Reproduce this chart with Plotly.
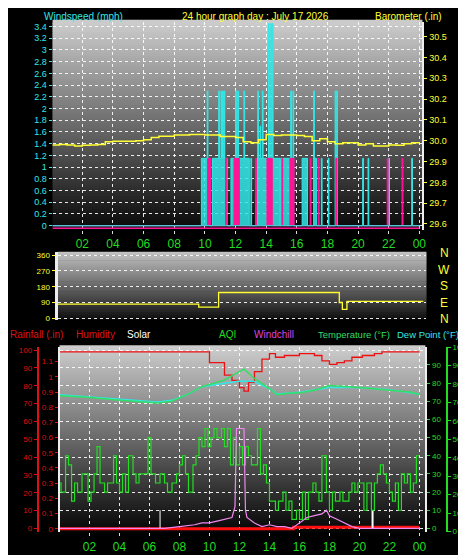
import plotly.graph_objects as go

# ---------------- data ----------------
hour_ticks = [2, 4, 6, 8, 10, 12, 14, 16, 18, 20, 22, 24]
hour_labels = ["02", "04", "06", "08", "10", "12", "14", "16", "18", "20", "22", "00"]

baro_hours = [0, 0.5, 1, 1.5, 2, 2.5, 3, 3.4, 3.5, 4, 5, 5.5, 6, 6.5, 7, 8, 9, 10, 11, 12, 12.5, 13, 13.5, 14, 14.5, 15, 16, 16.5, 17, 17.5, 18, 18.5, 19, 19.5, 20, 20.5, 21, 22, 22.5, 23, 23.5, 24]
baro_vals = [29.98, 29.982, 29.98, 29.975, 29.978, 29.98, 29.982, 29.982, 29.995, 29.997, 29.998, 30.0, 30.005, 30.015, 30.022, 30.028, 30.03, 30.027, 30.02, 30.015, 29.995, 29.99, 30.005, 30.03, 30.025, 30.027, 30.025, 30.02, 30.0, 30.01, 29.995, 29.985, 29.99, 29.99, 29.98, 29.985, 29.975, 29.98, 29.978, 29.985, 29.99, 29.99]

wind_hours = [0, 9.77, 10.15, 10.2, 10.3, 10.5, 10.9, 10.95, 11.05, 11.1, 11.15, 11.2, 11.25, 11.3, 11.45, 11.7, 12.0, 12.1, 12.15, 12.2, 12.55, 12.6, 12.9, 13.0, 13.05, 13.4, 13.45, 13.5, 13.6, 13.65, 13.75, 13.8, 14.15, 14.2, 14.3, 14.35, 14.4, 14.45, 14.9, 14.95, 15.6, 15.65, 15.75, 15.8, 16.35, 16.7, 17.1, 17.15, 17.3, 17.6, 17.65, 18.05, 18.1, 18.5, 18.65, 20.3, 20.35, 20.65, 20.7, 21.95, 22.05, 23.5, 23.55, 24]
wind_vals = [0, 1.15, 2.3, 1.15, 0, 1.15, 2.3, 1.15, 2.3, 1.15, 2.3, 1.15, 2.3, 1.15, 0, 1.15, 2.3, 1.15, 2.3, 1.15, 2.3, 1.15, 0, 1.15, 0, 1.15, 2.3, 1.15, 1.7, 1.15, 2.3, 1.15, 3.45, 2.3, 3.45, 2.9, 3.45, 1.15, 0, 1.15, 2.3, 1.15, 2.3, 0, 1.15, 0, 2.3, 1.15, 0, 1.15, 0, 1.15, 0, 2.3, 0, 1.15, 0, 1.15, 0, 1.15, 0, 1.15, 0, 0]

gust_hours = [0, 10.18, 10.4, 11.35, 11.42, 11.9, 12.25, 13.3, 13.36, 14.05, 14.4, 15.03, 15.08, 15.55, 15.82, 16.87, 16.93, 17.4, 17.46, 18.55, 18.62, 21.9, 21.96, 22.87, 22.93, 24]
gust_vals = [0, 1.15, 0, 1.15, 0, 1.15, 0, 1.15, 0, 1.15, 0, 1.15, 0, 1.15, 0, 1.15, 0, 1.15, 0, 1.15, 0, 1.15, 0, 1.15, 0, 0]

dir_hours = [0, 9.3, 10.6, 18.5, 18.7, 19.0, 24]
dir_vals = [81, 63, 147, 90, 51, 96, 96]

hum_hours = [0, 9.3, 10, 11, 11.5, 12, 12.3, 12.6, 13, 13.5, 14, 14.4, 15, 16, 17, 17.5, 18, 18.5, 19, 19.5, 20.2, 21, 21.5, 24]
hum_vals = [99, 99, 93, 86, 83, 79, 77, 82, 88, 95, 98, 96, 97, 98, 97, 94, 92, 93, 94, 96, 97, 98, 99, 99]

temp_hours = [0, 2, 4, 6.5, 7.5, 8.5, 9.5, 11, 12.3, 13, 14, 14.5, 15.5, 16, 17, 18, 20, 22, 23.5, 24]
temp_vals = [73, 72, 70.5, 69, 70, 73.6, 78, 81.7, 87.7, 82.6, 77, 73.6, 74.5, 74.5, 76, 78.7, 77.6, 76, 74.9, 73.6]

dew_hours = [0, 2, 4, 6.5, 7.5, 8.5, 9.5, 11, 12, 13, 14, 14.5, 16, 18, 20, 22, 24]
dew_vals = [73.6, 72.3, 70.9, 69.6, 70.5, 73.6, 78, 80, 81.2, 80.8, 76.9, 74, 75, 77.6, 77.6, 76.3, 74]

chill_hours = [0, 7, 8, 9, 9.5, 10, 10.5, 11, 11.5, 11.7, 11.8, 12.3, 12.4, 12.5, 13, 13.5, 14, 14.5, 15, 15.5, 16, 16.5, 17, 17.5, 17.8, 18, 18.5, 19, 19.5, 20, 24]
chill_vals = [0, 0, 1, 2, 3, 3, 4, 5, 6, 12, 55, 55, 10, 6, 3, 1, 2, 1, 1, 0, 3, 6, 7, 8, 10, 7, 5, 3, 1, 0, 0]

rain_hours = [0, 15.5, 15.6, 24]
rain_vals = [0, 0, 0.01, 0.01]

solar_hours = [6.7, 20.9]
solar_vals = [10, 10]

aqi_hours = [0, 0.1, 0.4, 0.6, 0.8, 1.0, 1.2, 1.5, 1.9, 2.1, 2.3, 2.5, 2.7, 3.0, 3.2, 3.6, 3.8, 4.0, 4.2, 4.4, 4.6, 4.9, 5.1, 5.3, 5.9, 6.1, 6.4, 6.7, 7.0, 7.2, 7.5, 7.8, 8.0, 8.2, 8.4, 8.6, 8.9, 9.1, 9.3, 9.5, 9.7, 9.9, 10.1, 10.3, 10.5, 10.8, 11.0, 11.2, 11.4, 11.6, 11.8, 12.0, 12.2, 12.4, 12.6, 12.8, 13.2, 13.4, 13.6, 13.8, 14.0, 14.4, 14.6, 14.9, 15.1, 15.3, 15.5, 15.8, 16.0, 16.2, 16.4, 16.6, 16.9, 17.1, 17.3, 17.5, 17.8, 18.0, 18.2, 18.4, 18.7, 18.9, 19.3, 19.5, 19.7, 19.9, 20.3, 20.5, 20.8, 21.0, 21.2, 21.4, 21.6, 21.8, 22.0, 22.2, 22.4, 22.6, 22.8, 23.0, 23.2, 23.4, 23.6, 23.8, 24]
aqi_vals = [25, 20, 40, 35, 15, 25, 20, 30, 15, 20, 30, 45, 25, 20, 25, 40, 25, 20, 30, 20, 40, 30, 25, 30, 50, 30, 25, 30, 25, 20, 25, 30, 35, 40, 30, 20, 35, 40, 50, 45, 55, 45, 50, 55, 50, 55, 45, 55, 35, 50, 35, 45, 35, 45, 40, 35, 55, 30, 35, 25, 15, 10, 15, 20, 10, 15, 5, 10, 5, 20, 5, 20, 25, 20, 15, 40, 20, 10, 20, 15, 20, 15, 20, 25, 20, 25, 10, 25, 10, 25, 30, 35, 30, 25, 20, 15, 25, 10, 30, 25, 30, 20, 25, 40, 40]

# ---------------- figure ----------------
FONT = "Liberation Sans"
CYAN = "#33e6e6"
YEL = "#ffff33"
GRN = "#22dd22"
RED = "#dd1111"

def px2x(p):
    return p / 466.0

def py2y(p):
    return 1 - p / 555.0

fig = go.Figure()

# top panel
fig.add_trace(go.Scatter(x=wind_hours, y=wind_vals, xaxis="x", yaxis="y", mode="lines",
                         line=dict(color=CYAN, width=1, shape="hv"), fill="tozeroy",
                         fillcolor="rgba(51,230,230,0.85)"))
fig.add_trace(go.Scatter(x=gust_hours, y=gust_vals, xaxis="x", yaxis="y", mode="lines",
                         line=dict(color="#ff1493", width=1, shape="hv"), fill="tozeroy",
                         fillcolor="#ff1493"))
fig.add_trace(go.Scatter(x=[0, 24], y=[-0.045, -0.045], xaxis="x", yaxis="y", mode="lines",
                         line=dict(color="#ff1493", width=1.5)))
fig.add_trace(go.Scatter(x=[0, 24], y=[0.0, 0.0], xaxis="x", yaxis="y", mode="lines",
                         line=dict(color=CYAN, width=1)))
fig.add_trace(go.Scatter(x=baro_hours, y=baro_vals, xaxis="x", yaxis="y2", mode="lines",
                         line=dict(color=YEL, width=1.5, shape="hv")))

# middle panel
fig.add_trace(go.Scatter(x=dir_hours, y=dir_vals, xaxis="x2", yaxis="y3", mode="lines",
                         line=dict(color=YEL, width=1.3, shape="hv")))

# bottom panel
fig.add_trace(go.Scatter(x=aqi_hours, y=aqi_vals, xaxis="x3", yaxis="y6", mode="lines",
                         line=dict(color=GRN, width=1.2, shape="hv")))
fig.add_trace(go.Scatter(x=chill_hours, y=chill_vals, xaxis="x3", yaxis="y6", mode="lines",
                         line=dict(color="#ee88ee", width=1.2)))
fig.add_trace(go.Scatter(x=rain_hours, y=rain_vals, xaxis="x3", yaxis="y5", mode="lines",
                         line=dict(color="#ff1010", width=3, shape="hv")))
fig.add_trace(go.Bar(x=solar_hours, y=solar_vals, xaxis="x3", yaxis="y6", width=0.05,
                     marker=dict(color="white", line=dict(width=0))))
fig.add_trace(go.Scatter(x=hum_hours, y=hum_vals, xaxis="x3", yaxis="y4", mode="lines",
                         line=dict(color="#ee1111", width=1.3, shape="hv")))
fig.add_trace(go.Scatter(x=dew_hours, y=dew_vals, xaxis="x3", yaxis="y6", mode="lines",
                         line=dict(color=CYAN, width=1.5)))
fig.add_trace(go.Scatter(x=temp_hours, y=temp_vals, xaxis="x3", yaxis="y6", mode="lines",
                         line=dict(color="#33dd66", width=1.5)))

grid = dict(showgrid=True, gridcolor="rgba(255,255,255,0.9)", griddash="dot", gridwidth=1)
xtick = dict(tickmode="array", tickvals=hour_ticks, ticktext=hour_labels,
             tickfont=dict(color=GRN, size=12, family=FONT), ticks="outside", ticklen=3,
             tickcolor="#dddddd", zeroline=False, showline=False)

fig.update_layout(
    width=466, height=555, margin=dict(l=0, r=0, t=0, b=0),
    paper_bgcolor="black", plot_bgcolor="black", showlegend=False, barmode="overlay",
    xaxis=dict(domain=[px2x(45), px2x(418)], range=[0.06, 24.2], anchor="y", **grid, **xtick),
    yaxis=dict(domain=[py2y(221), py2y(10)], range=[-0.07, 3.48], anchor="x",
               tickvals=[round(0.2 * i, 1) for i in range(18)],
               ticktext=[f"{0.2 * i:g}" for i in range(18)],
               tickfont=dict(color=CYAN, size=9, family=FONT), ticks="outside", ticklen=3,
               tickcolor=CYAN, zeroline=False, **grid),
    yaxis2=dict(overlaying="y", side="right", anchor="x", range=[29.572, 30.571],
                tickvals=[round(29.6 + 0.1 * i, 1) for i in range(10)],
                ticktext=[f"{29.6 + 0.1 * i:.1f}" for i in range(10)],
                tickfont=dict(color=YEL, size=9, family=FONT), ticks="outside", ticklen=3,
                tickcolor=YEL, showgrid=False, zeroline=False, showline=True,
                linecolor="#eeeeee", linewidth=2),
    xaxis2=dict(domain=[px2x(50), px2x(422)], range=[0.06, 24.2], anchor="y3",
                showticklabels=False, showgrid=False, zeroline=False),
    yaxis3=dict(domain=[py2y(312), py2y(244)], range=[-7, 375], anchor="x2",
                tickvals=[0, 90, 180, 270, 360], tickfont=dict(color=YEL, size=8, family=FONT),
                ticks="outside", ticklen=3, tickcolor=YEL, zeroline=False, showline=True,
                linecolor="#eeeeee", linewidth=3, **grid),
    xaxis3=dict(domain=[px2x(52), px2x(421)], range=[0, 24.4], anchor="y4", **grid, **xtick),
    yaxis4=dict(domain=[py2y(528), py2y(340)], range=[-2.2, 101.7], anchor="free",
                position=px2x(30), tickvals=list(range(0, 101, 10)),
                tickfont=dict(color=RED, size=8, family=FONT), ticks="outside", ticklen=3,
                tickcolor=RED, showline=True, linecolor=RED, linewidth=2, zeroline=False, **grid),
    yaxis5=dict(overlaying="y4", anchor="free", position=px2x(51), range=[-0.024, 1.196],
                tickvals=[round(0.1 * i, 1) for i in range(13)],
                ticktext=[f"{0.1 * i:g}" for i in range(13)],
                tickfont=dict(color=RED, size=8, family=FONT), ticks="outside", ticklen=3,
                tickcolor=RED, showline=True, linecolor="#eeeeee", linewidth=2,
                showgrid=False, zeroline=False),
    yaxis6=dict(overlaying="y4", anchor="free", side="right", position=px2x(422),
                range=[-2.2, 99.8], tickvals=list(range(0, 91, 10)),
                tickfont=dict(color=GRN, size=8, family=FONT), ticks="outside", ticklen=3,
                tickcolor=GRN, showline=True, linecolor="#eeeeee", linewidth=2,
                showgrid=False, zeroline=False),
    yaxis7=dict(overlaying="y4", anchor="free", side="right", position=px2x(443),
                range=[-0.5, 100], tickvals=list(range(0, 101, 10)),
                tickfont=dict(color=GRN, size=8, family=FONT), ticks="outside", ticklen=3,
                tickcolor=GRN, showline=True, linecolor=GRN, linewidth=1.5,
                showgrid=False, zeroline=False),
)
fig.add_trace(go.Scatter(x=[0], y=[0], xaxis="x3", yaxis="y7", mode="markers",
                         marker=dict(opacity=0), hoverinfo="skip"))

# gradient backgrounds
N = 80
shapes = []
for xr, yr, top, bot in [("x domain", "y domain", 205, 8), ("x2 domain", "y3 domain", 195, 15),
                         ("x3 domain", "y4 domain", 205, 5)]:
    for i in range(N):
        c = int(bot + (top - bot) * (i + 0.5) / N)
        shapes.append(dict(type="rect", xref=xr, yref=yr, x0=0, x1=1, y0=i / N, y1=(i + 1) / N + 0.01,
                           fillcolor=f"rgb({c},{c},{c})", line=dict(width=0), layer="below"))
fig.update_layout(shapes=shapes)

ann = []
def label(text, x, y, color, size=10, xanchor="left"):
    ann.append(dict(text=text, x=px2x(x), y=py2y(y), xref="paper", yref="paper",
                    showarrow=False, xanchor=xanchor, yanchor="middle",
                    font=dict(color=color, size=size, family=FONT)))

label("Windspeed (mph)", 34, 5, CYAN)
label("24 hour graph day : July 17 2026", 250, 5, YEL, xanchor="center")
label("Barometer (.in)", 440, 5, YEL, xanchor="right")
label("Rainfall (.in)", 0, 327, RED)
label("Humidity", 67, 327, RED)
label("Solar", 118, 327, "white")
label("AQI", 211, 327, GRN)
label("Windchill", 246, 327, "#dd44dd")
label("Temperature (°F)", 311, 327, "#33dd66", size=9.5)
label("Dew Point (°F)", 390, 327, CYAN, size=9.5)
for t, yy in zip(["N", "W", "S", "E", "N"], [245, 262, 278, 295, 311]):
    label(t, 440, yy, YEL, size=12, xanchor="center")
fig.update_layout(annotations=ann)

fig.write_html("out.html")
